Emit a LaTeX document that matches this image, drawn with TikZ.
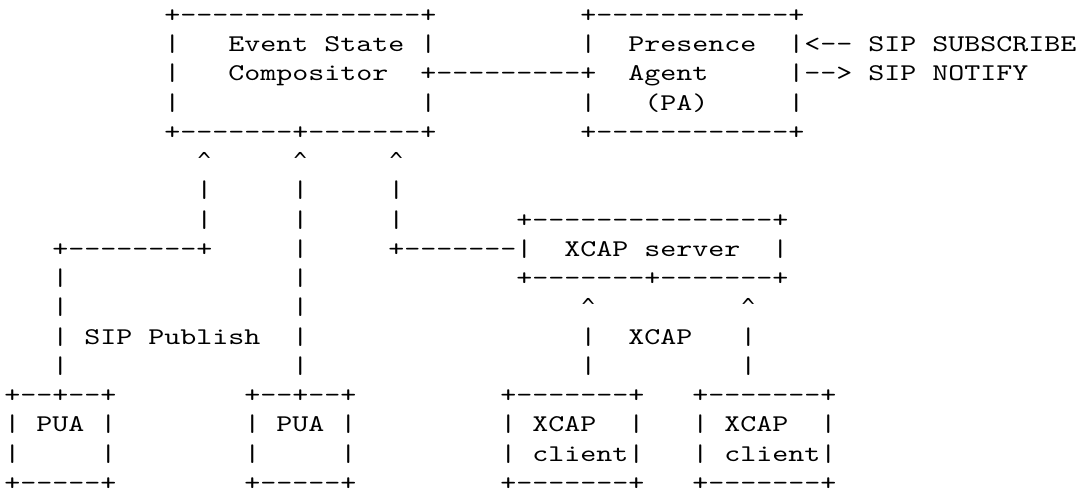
\documentclass[tikz,border=0pt]{standalone}
\usepackage{fontspec}
% typewriter face, widened so one character cell is 8pt wide
\newfontfamily\asciifont{lmmono10-regular.otf}[FakeStretch=1.27]
% a fuller caret for the upward arrows
\newfontfamily\caretfont{DejaVu Sans Mono}
\tikzset{
  txt/.style={inner sep=0pt, outer sep=0pt, anchor=base west, text depth=0pt,
              font=\fontsize{12pt}{14pt}\asciifont, text=black},
  caret/.style={inner sep=0pt, outer sep=0pt, anchor=base, text depth=0pt,
              font=\fontsize{11pt}{13pt}\caretfont, text=black}
}
\begin{document}
% one unit in x = one character column, one unit in y = one text row
\begin{tikzpicture}[x=8pt, y=-14.625pt]
\useasboundingbox (-2.15pt,11.2pt) rectangle (537.85pt,-234.8pt);

% Event State Compositor and Presence Agent
\node[txt] (esc-top)  at (10,0) {+---------------+};
\node[txt] (pa-top)   at (36,0) {+------------+};
\node[txt] (esc-l1)   at (10,1) {|};
\node[txt] (esc-t1)   at (14,1) {Event State};
\node[txt] (esc-r1)   at (26,1) {|};
\node[txt] (pa-l1)    at (36,1) {|};
\node[txt] (pa-t1)    at (39,1) {Presence};
\node[txt] (pa-sub)   at (49,1) {|<-- SIP SUBSCRIBE};
\node[txt] (esc-l2)   at (10,2) {|};
\node[txt] (esc-t2)   at (14,2) {Compositor};
\node[txt] (esc-pa)   at (26,2) {+---------+};
\node[txt] (pa-t2)    at (39,2) {Agent};
\node[txt] (pa-not)   at (49,2) {|--> SIP NOTIFY};
\node[txt] (esc-l3)   at (10,3) {|};
\node[txt] (esc-r3)   at (26,3) {|};
\node[txt] (pa-l3)    at (36,3) {|};
\node[txt] (pa-t3)    at (40,3) {(PA)};
\node[txt] (pa-r3)    at (49,3) {|};
\node[txt] (esc-bot)  at (10,4) {+-------+-------+};
\node[txt] (pa-bot)   at (36,4) {+------------+};

% arrows up into the compositor
\node[caret] (up-a)   at (12.5,5) {\char"5E};
\node[caret] (up-b)   at (18.5,5) {\char"5E};
\node[caret] (up-c)   at (24.5,5) {\char"5E};
\node[txt] (va6)      at (12,6) {|};
\node[txt] (vb6)      at (18,6) {|};
\node[txt] (vc6)      at (24,6) {|};
\node[txt] (va7)      at (12,7) {|};
\node[txt] (vb7)      at (18,7) {|};
\node[txt] (vc7)      at (24,7) {|};

% XCAP server
\node[txt] (xs-top)   at (32,7) {+---------------+};
\node[txt] (pub-run)  at (3,8)  {+--------+};
\node[txt] (vb8)      at (18,8) {|};
\node[txt] (xs-link)  at (24,8) {+-------|};
\node[txt] (xs-t)     at (35,8) {XCAP server};
\node[txt] (xs-r)     at (48,8) {|};
\node[txt] (va9)      at (3,9)  {|};
\node[txt] (vb9)      at (18,9) {|};
\node[txt] (xs-bot)   at (32,9) {+-------+-------+};
\node[txt] (va10)     at (3,10) {|};
\node[txt] (vb10)     at (18,10) {|};
\node[caret] (up-x1)  at (36.5,10) {\char"5E};
\node[caret] (up-x2)  at (46.5,10) {\char"5E};
\node[txt] (va11)     at (3,11) {|};
\node[txt] (pub-lbl)  at (5,11) {SIP Publish};
\node[txt] (vb11)     at (18,11) {|};
\node[txt] (vx1-11)   at (36,11) {|};
\node[txt] (xcap-lbl) at (39,11) {XCAP};
\node[txt] (vx2-11)   at (46,11) {|};
\node[txt] (va12)     at (3,12) {|};
\node[txt] (vb12)     at (18,12) {|};
\node[txt] (vx1-12)   at (36,12) {|};
\node[txt] (vx2-12)   at (46,12) {|};

% PUAs and XCAP clients
\node[txt] (pua1-top) at (0,13)  {+--+--+};
\node[txt] (pua2-top) at (15,13) {+--+--+};
\node[txt] (xc1-top)  at (31,13) {+-------+};
\node[txt] (xc2-top)  at (43,13) {+-------+};
\node[txt] (pua1-l)   at (0,14)  {|};
\node[txt] (pua1-t)   at (2,14)  {PUA};
\node[txt] (pua1-r)   at (6,14)  {|};
\node[txt] (pua2-l)   at (15,14) {|};
\node[txt] (pua2-t)   at (17,14) {PUA};
\node[txt] (pua2-r)   at (21,14) {|};
\node[txt] (xc1-l)    at (31,14) {|};
\node[txt] (xc1-t)    at (33,14) {XCAP};
\node[txt] (xc1-r)    at (39,14) {|};
\node[txt] (xc2-l)    at (43,14) {|};
\node[txt] (xc2-t)    at (45,14) {XCAP};
\node[txt] (xc2-r)    at (51,14) {|};
\node[txt] (pua1-l2)  at (0,15)  {|};
\node[txt] (pua1-r2)  at (6,15)  {|};
\node[txt] (pua2-l2)  at (15,15) {|};
\node[txt] (pua2-r2)  at (21,15) {|};
\node[txt] (xc1-l2)   at (31,15) {|};
\node[txt] (xc1-t2)   at (33,15) {client|};
\node[txt] (xc2-l2)   at (43,15) {|};
\node[txt] (xc2-t2)   at (45,15) {client|};
\node[txt] (pua1-bot) at (0,16)  {+-----+};
\node[txt] (pua2-bot) at (15,16) {+-----+};
\node[txt] (xc1-bot)  at (31,16) {+-------+};
\node[txt] (xc2-bot)  at (43,16) {+-------+};
\end{tikzpicture}
\end{document}
